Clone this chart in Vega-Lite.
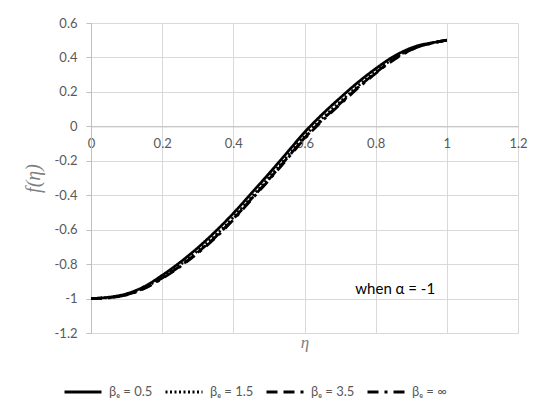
{
  "$schema": "https://vega.github.io/schema/vega-lite/v6.json",
  "autosize": {"type": "none"},
  "width": 427,
  "height": 310,
  "padding": {"left": 91, "top": 23, "right": 32, "bottom": 86},
  "background": "white",
  "datasets": {
    "curves": [
      {"eta": 0, "f": -1.0, "s": "βₑ = 0.5"},
      {"eta": 0.05, "f": -0.992, "s": "βₑ = 0.5"},
      {"eta": 0.1, "f": -0.972, "s": "βₑ = 0.5"},
      {"eta": 0.15, "f": -0.93, "s": "βₑ = 0.5"},
      {"eta": 0.2, "f": -0.865, "s": "βₑ = 0.5"},
      {"eta": 0.25, "f": -0.79, "s": "βₑ = 0.5"},
      {"eta": 0.3, "f": -0.705, "s": "βₑ = 0.5"},
      {"eta": 0.35, "f": -0.61, "s": "βₑ = 0.5"},
      {"eta": 0.4, "f": -0.505, "s": "βₑ = 0.5"},
      {"eta": 0.45, "f": -0.39, "s": "βₑ = 0.5"},
      {"eta": 0.5, "f": -0.275, "s": "βₑ = 0.5"},
      {"eta": 0.55, "f": -0.155, "s": "βₑ = 0.5"},
      {"eta": 0.6, "f": -0.035, "s": "βₑ = 0.5"},
      {"eta": 0.65, "f": 0.07, "s": "βₑ = 0.5"},
      {"eta": 0.7, "f": 0.165, "s": "βₑ = 0.5"},
      {"eta": 0.75, "f": 0.255, "s": "βₑ = 0.5"},
      {"eta": 0.8, "f": 0.335, "s": "βₑ = 0.5"},
      {"eta": 0.85, "f": 0.405, "s": "βₑ = 0.5"},
      {"eta": 0.9, "f": 0.455, "s": "βₑ = 0.5"},
      {"eta": 0.925, "f": 0.472, "s": "βₑ = 0.5"},
      {"eta": 0.95, "f": 0.482, "s": "βₑ = 0.5"},
      {"eta": 1.0, "f": 0.5, "s": "βₑ = 0.5"},

      {"eta": 0, "f": -1.0, "s": "βₑ = 1.5"},
      {"eta": 0.05, "f": -0.9945, "s": "βₑ = 1.5"},
      {"eta": 0.1, "f": -0.976, "s": "βₑ = 1.5"},
      {"eta": 0.15, "f": -0.937, "s": "βₑ = 1.5"},
      {"eta": 0.2, "f": -0.876, "s": "βₑ = 1.5"},
      {"eta": 0.25, "f": -0.805, "s": "βₑ = 1.5"},
      {"eta": 0.3, "f": -0.723, "s": "βₑ = 1.5"},
      {"eta": 0.35, "f": -0.632, "s": "βₑ = 1.5"},
      {"eta": 0.4, "f": -0.528, "s": "βₑ = 1.5"},
      {"eta": 0.45, "f": -0.413, "s": "βₑ = 1.5"},
      {"eta": 0.5, "f": -0.298, "s": "βₑ = 1.5"},
      {"eta": 0.55, "f": -0.178, "s": "βₑ = 1.5"},
      {"eta": 0.6, "f": -0.058, "s": "βₑ = 1.5"},
      {"eta": 0.65, "f": 0.047, "s": "βₑ = 1.5"},
      {"eta": 0.7, "f": 0.142, "s": "βₑ = 1.5"},
      {"eta": 0.75, "f": 0.234, "s": "βₑ = 1.5"},
      {"eta": 0.8, "f": 0.318, "s": "βₑ = 1.5"},
      {"eta": 0.85, "f": 0.393, "s": "βₑ = 1.5"},
      {"eta": 0.9, "f": 0.448, "s": "βₑ = 1.5"},
      {"eta": 0.925, "f": 0.468, "s": "βₑ = 1.5"},
      {"eta": 0.95, "f": 0.48, "s": "βₑ = 1.5"},
      {"eta": 1.0, "f": 0.5, "s": "βₑ = 1.5"},

      {"eta": 0, "f": -1.0, "s": "βₑ = 3.5"},
      {"eta": 0.05, "f": -0.995, "s": "βₑ = 3.5"},
      {"eta": 0.1, "f": -0.978, "s": "βₑ = 3.5"},
      {"eta": 0.15, "f": -0.94, "s": "βₑ = 3.5"},
      {"eta": 0.2, "f": -0.881, "s": "βₑ = 3.5"},
      {"eta": 0.25, "f": -0.812, "s": "βₑ = 3.5"},
      {"eta": 0.3, "f": -0.732, "s": "βₑ = 3.5"},
      {"eta": 0.35, "f": -0.642, "s": "βₑ = 3.5"},
      {"eta": 0.4, "f": -0.538, "s": "βₑ = 3.5"},
      {"eta": 0.45, "f": -0.423, "s": "βₑ = 3.5"},
      {"eta": 0.5, "f": -0.308, "s": "βₑ = 3.5"},
      {"eta": 0.55, "f": -0.188, "s": "βₑ = 3.5"},
      {"eta": 0.6, "f": -0.068, "s": "βₑ = 3.5"},
      {"eta": 0.65, "f": 0.037, "s": "βₑ = 3.5"},
      {"eta": 0.7, "f": 0.132, "s": "βₑ = 3.5"},
      {"eta": 0.75, "f": 0.225, "s": "βₑ = 3.5"},
      {"eta": 0.8, "f": 0.311, "s": "βₑ = 3.5"},
      {"eta": 0.85, "f": 0.388, "s": "βₑ = 3.5"},
      {"eta": 0.9, "f": 0.445, "s": "βₑ = 3.5"},
      {"eta": 0.925, "f": 0.466, "s": "βₑ = 3.5"},
      {"eta": 0.95, "f": 0.479, "s": "βₑ = 3.5"},
      {"eta": 1.0, "f": 0.5, "s": "βₑ = 3.5"},

      {"eta": 0, "f": -1.0, "s": "βₑ = ∞"},
      {"eta": 0.05, "f": -0.9955, "s": "βₑ = ∞"},
      {"eta": 0.1, "f": -0.979, "s": "βₑ = ∞"},
      {"eta": 0.15, "f": -0.942, "s": "βₑ = ∞"},
      {"eta": 0.2, "f": -0.884, "s": "βₑ = ∞"},
      {"eta": 0.25, "f": -0.816, "s": "βₑ = ∞"},
      {"eta": 0.3, "f": -0.737, "s": "βₑ = ∞"},
      {"eta": 0.35, "f": -0.647, "s": "βₑ = ∞"},
      {"eta": 0.4, "f": -0.543, "s": "βₑ = ∞"},
      {"eta": 0.45, "f": -0.428, "s": "βₑ = ∞"},
      {"eta": 0.5, "f": -0.313, "s": "βₑ = ∞"},
      {"eta": 0.55, "f": -0.193, "s": "βₑ = ∞"},
      {"eta": 0.6, "f": -0.073, "s": "βₑ = ∞"},
      {"eta": 0.65, "f": 0.032, "s": "βₑ = ∞"},
      {"eta": 0.7, "f": 0.127, "s": "βₑ = ∞"},
      {"eta": 0.75, "f": 0.221, "s": "βₑ = ∞"},
      {"eta": 0.8, "f": 0.307, "s": "βₑ = ∞"},
      {"eta": 0.85, "f": 0.385, "s": "βₑ = ∞"},
      {"eta": 0.9, "f": 0.443, "s": "βₑ = ∞"},
      {"eta": 0.925, "f": 0.465, "s": "βₑ = ∞"},
      {"eta": 0.95, "f": 0.479, "s": "βₑ = ∞"},
      {"eta": 1.0, "f": 0.5, "s": "βₑ = ∞"}
    ],
    "note": [
      {"eta": 0.855, "f": -0.944, "label": "when α = -1"}
    ]
  },
  "config": {
    "view": {"stroke": null},
    "font": "Lato",
    "axis": {
      "labelFont": "Lato",
      "labelFontSize": 13,
      "labelColor": "#595959",
      "gridColor": "#d9d9d9",
      "gridWidth": 1,
      "domainColor": "#bfbfbf",
      "tickColor": "#bfbfbf",
      "labelOverlap": false,
      "labelFlush": false,
      "labelBound": false
    },
    "legend": {
      "labelFont": "Lato",
      "labelFontSize": 13,
      "labelColor": "#595959"
    }
  },
  "layer": [
    {
      "data": {"name": "curves"},
      "mark": {"type": "line", "color": "black", "strokeWidth": 2.75, "interpolate": "monotone", "clip": false},
      "encoding": {
        "x": {
          "field": "eta",
          "type": "quantitative",
          "scale": {"domain": [0, 1.2], "nice": false, "zero": false},
          "axis": {
            "values": [0, 0.2, 0.4, 0.6, 0.8, 1, 1.2],
            "tickCount": 20,
            "offset": -206.67,
            "ticks": false,
            "labelPadding": 11,
            "format": ".1~f",
            "title": "η",
            "titleFont": "Liberation Serif",
            "titleFontStyle": "italic",
            "titleFontWeight": "normal",
            "titleFontSize": 17,
            "titleColor": "#7f7f7f",
            "titleY": 221,
            "titleBaseline": "alphabetic"
          }
        },
        "y": {
          "field": "f",
          "type": "quantitative",
          "scale": {"domain": [-1.2, 0.6], "nice": false, "zero": false},
          "axis": {
            "values": [-1.2, -1, -0.8, -0.6, -0.4, -0.2, 0, 0.2, 0.4, 0.6],
            "tickCount": 20,
            "tickSize": 5,
            "labelPadding": 9,
            "format": ".1~f",
            "labelExpr": "replace(datum.label, '−', '-')",
            "title": "f(η)",
            "titleFont": "Liberation Serif",
            "titleFontStyle": "italic",
            "titleFontWeight": "normal",
            "titleFontSize": 20,
            "titleColor": "#7f7f7f",
            "titlePadding": 11
          }
        },
        "strokeDash": {
          "field": "s",
          "type": "nominal",
          "scale": {
            "domain": ["βₑ = 0.5", "βₑ = 1.5", "βₑ = 3.5", "βₑ = ∞"],
            "range": [[1, 0], [2, 2.5], [11, 6], [11, 6, 3, 6]]
          },
          "legend": {
            "title": null,
            "orient": "none",
            "legendX": -28,
            "legendY": 349,
            "direction": "horizontal",
            "symbolType": "stroke",
            "symbolSize": 1369,
            "symbolStrokeWidth": 3,
            "symbolStrokeColor": "black",
            "labelOffset": 6,
            "columnPadding": 6
          }
        }
      }
    },
    {
      "data": {"name": "note"},
      "mark": {"type": "text", "font": "Lato", "fontSize": 15, "color": "black", "align": "center", "baseline": "middle"},
      "encoding": {
        "x": {"field": "eta", "type": "quantitative"},
        "y": {"field": "f", "type": "quantitative"},
        "text": {"field": "label"}
      }
    }
  ]
}
